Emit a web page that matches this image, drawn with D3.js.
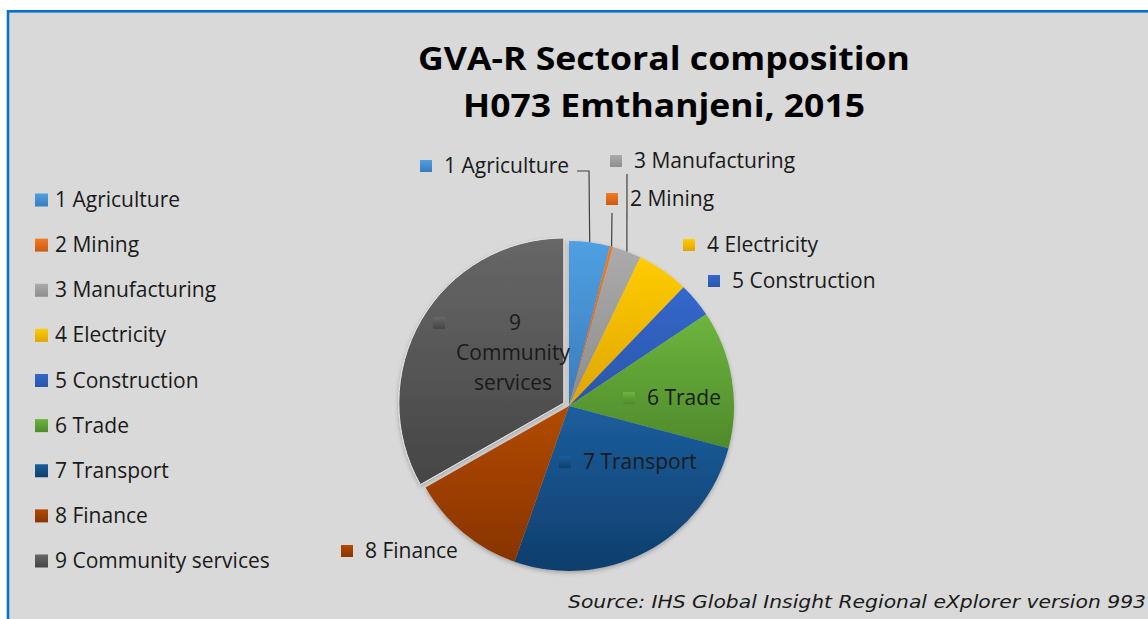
<!DOCTYPE html>
<html>
<head>
<meta charset="utf-8">
<script src="https://cdn.jsdelivr.net/npm/d3@7"></script>
<style>
  html, body { margin: 0; padding: 0; background: #ffffff; }
  svg { display: block; }
</style>
</head>
<body>
<svg id="chart" width="1148" height="619"></svg>
<script>
// ---- data ----
const categories = ["1 Agriculture", "2 Mining", "3 Manufacturing", "4 Electricity", "5 Construction",
                    "6 Trade", "7 Transport", "8 Finance", "9 Community services"];
const shares = [4.0, 0.3, 2.8, 5.1, 3.4, 13.5, 26.2, 11.4, 33.2];
const titleLines = ["GVA-R Sectoral composition", "H073 Emthanjeni, 2015"];
const sourceText = "Source: IHS Global Insight Regional eXplorer version 993";

// ---- styles ----
const colorTop = ["#4fa0e2", "#f27c24", "#ababab", "#ffcc00", "#3468cc", "#6db53e", "#1c5e9e", "#b24a00", "#676767"];
const colorBot = ["#3a7bbb", "#cc5a10", "#8c8c8c", "#e0a500", "#2a55aa", "#4f8a2b", "#0e3e6c", "#883400", "#454545"];

// label layout (text anchor positions), per category
const labelLayout = [
  {x: 444, y: 166, leader: [[577, 171], [589, 171]]},
  {x: 630, y: 199, leader: [[612, 213]]},
  {x: 634, y: 161, leader: [[627, 174]]},
  {x: 707, y: 245},
  {x: 732, y: 281},
  {x: 647, y: 398},
  {x: 583, y: 462},
  {x: 365, y: 551},
  {x: 515, y: 323, multi: ["9", "Community", "services"], mx: 433}
];

const svg = d3.select("#chart");
const W = 1148, H = 619;
const font = "'Open Sans', Lato, sans-serif";
const fs = 21;

// gradients
const defs = svg.append("defs");
categories.forEach((c, i) => {
  const g = defs.append("linearGradient").attr("id", "g" + i)
    .attr("x1", 0).attr("y1", 0).attr("x2", 0).attr("y2", 1);
  g.append("stop").attr("offset", "0%").attr("stop-color", colorTop[i]);
  g.append("stop").attr("offset", "100%").attr("stop-color", colorBot[i]);
});
const f = defs.append("filter").attr("id", "shadow").attr("x", "-20%").attr("y", "-20%").attr("width", "140%").attr("height", "140%");
f.append("feDropShadow").attr("dx", 0).attr("dy", 2).attr("stdDeviation", 2)
  .attr("flood-color", "#000").attr("flood-opacity", 0.25);

// background + border
svg.append("rect").attr("x", 0).attr("y", 0).attr("width", W).attr("height", H).attr("fill", "#ffffff");
svg.append("rect").attr("x", 8).attr("y", 11.3).attr("width", W + 20).attr("height", H + 20)
  .attr("fill", "#d9d9d9").attr("stroke", "#0a72c6").attr("stroke-width", 2.6);

// title
svg.append("g").selectAll("text").data(titleLines).join("text")
  .attr("x", 664).attr("y", (d, i) => 70 + i * 47)
  .attr("text-anchor", "middle")
  .attr("font-family", font).attr("font-weight", "bold").attr("font-size", 33)
  .attr("fill", "#000")
  .attr("textLength", (d, i) => i === 0 ? 492 : 402)
  .attr("lengthAdjust", "spacingAndGlyphs")
  .text(d => d);

// pie
const cx = 569, cy = 406, R = 165;
const pie = d3.pie().sort(null).value(d => d);
const arcs = pie(shares);
const arc = d3.arc().innerRadius(0).outerRadius(R);
const explode = 6;
const gPie = svg.append("g").attr("transform", `translate(${cx},${cy})`).attr("filter", "url(#shadow)");
gPie.selectAll("path").data(arcs).join("path")
  .attr("transform", (d, i) => {
    if (i !== 8) return null;
    const m = (d.startAngle + d.endAngle) / 2;
    return `translate(${explode * Math.sin(m)},${-explode * Math.cos(m)})`;
  })
  .attr("d", arc)
  .attr("fill", (d, i) => `url(#g${i})`)
  .attr("stroke", (d, i) => i === 8 ? "#e6e6e6" : "none")
  .attr("stroke-width", 1);

// leader lines (from label to slice mid-angle on the rim)
const gLab = svg.append("g");
arcs.forEach((a, i) => {
  const L = labelLayout[i];
  if (!L.leader) return;
  const m = (a.startAngle + a.endAngle) / 2;
  const ex = cx + R * Math.sin(m), ey = cy - R * Math.cos(m);
  const pts = L.leader.concat([[ex, ey]]);
  gLab.append("path")
    .attr("d", d3.line()(pts))
    .attr("fill", "none").attr("stroke", "#404040").attr("stroke-width", 1.2);
});

// pie labels
categories.forEach((c, i) => {
  const L = labelLayout[i];
  if (L.multi) {
    gLab.append("rect").attr("x", L.mx).attr("y", L.y - 6).attr("width", 12).attr("height", 12)
      .attr("fill", `url(#g${i})`);
    L.multi.forEach((t, k) => {
      gLab.append("text").attr("x", k === 0 ? L.x : L.x - 2).attr("y", L.y + 7 + k * 30)
        .attr("text-anchor", "middle")
        .attr("font-family", font).attr("font-size", fs).attr("fill", "#1a1a1a").text(t);
    });
    return;
  }
  gLab.append("rect").attr("x", L.x - 24).attr("y", L.y - 6).attr("width", 12).attr("height", 12)
    .attr("fill", `url(#g${i})`);
  gLab.append("text").attr("x", L.x).attr("y", L.y + 7)
    .attr("font-family", font).attr("font-size", fs).attr("fill", "#1a1a1a").text(c);
});

// legend
const yLeg = d3.scalePoint().domain(categories).range([200, 561]);
const gLeg = svg.append("g");
gLeg.selectAll("rect").data(categories).join("rect")
  .attr("x", 35).attr("y", d => yLeg(d) - 6.5).attr("width", 13).attr("height", 13)
  .attr("fill", (d, i) => `url(#g${i})`);
gLeg.selectAll("text").data(categories).join("text")
  .attr("x", 55).attr("y", d => yLeg(d) + 7)
  .attr("font-family", font).attr("font-size", fs).attr("fill", "#1a1a1a")
  .text(d => d);

// source
svg.append("text").attr("x", 568).attr("y", 608)
  .attr("font-family", "'DejaVu Sans', Verdana, sans-serif").attr("font-style", "italic")
  .attr("font-size", 17.5).attr("fill", "#1a1a1a")
  .attr("textLength", 578).attr("lengthAdjust", "spacingAndGlyphs")
  .text(sourceText);
</script>
</body>
</html>
